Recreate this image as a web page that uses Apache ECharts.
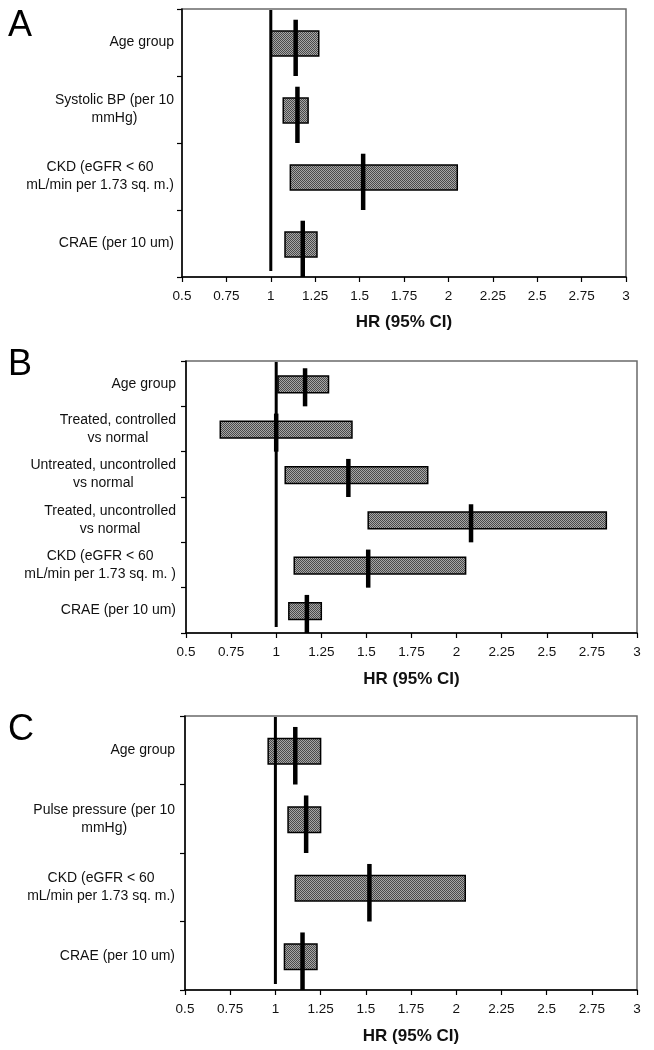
<!DOCTYPE html>
<html>
<head>
<meta charset="utf-8">
<script src="https://cdn.jsdelivr.net/npm/echarts@6/dist/echarts.min.js"></script>
<style>
html,body{margin:0;padding:0;background:#fff;}
#chart{width:654px;height:1050px;}
</style>
</head>
<body>
<div id="chart"></div>
<script>
// ---- Data ----
const xTicks = [0.5, 0.75, 1, 1.25, 1.5, 1.75, 2, 2.25, 2.5, 2.75, 3];
const refX = 1;

const catsA = ['Age group', 'Systolic BP (per 10\nmmHg)', 'CKD (eGFR < 60\nmL/min per 1.73 sq. m.)', 'CRAE (per 10 um)'];
const hrA = [1.14, 1.15, 1.52, 1.18];
const loA = [1.00, 1.07, 1.11, 1.08];
const hiA = [1.27, 1.21, 2.05, 1.26];

const catsB = ['Age group', 'Treated, controlled\nvs normal', 'Untreated, uncontrolled\nvs normal', 'Treated, uncontrolled\nvs normal', 'CKD (eGFR < 60\nmL/min per 1.73 sq. m. )', 'CRAE (per 10 um)'];
const hrB = [1.16, 1.00, 1.40, 2.08, 1.51, 1.17];
const loB = [1.01, 0.69, 1.05, 1.51, 1.10, 1.07];
const hiB = [1.29, 1.42, 1.84, 2.83, 2.05, 1.25];

const catsC = ['Age group', 'Pulse pressure (per 10\nmmHg)', 'CKD (eGFR < 60\nmL/min per 1.73 sq. m.)', 'CRAE (per 10 um)'];
const hrC = [1.11, 1.17, 1.52, 1.15];
const loC = [0.96, 1.07, 1.11, 1.05];
const hiC = [1.25, 1.25, 2.05, 1.23];

const panelLetters = ['A', 'B', 'C'];

// ---- Styling ----
const FONT = "'Liberation Sans', Arial, sans-serif";

const pat = document.createElement('canvas');
pat.width = 2; pat.height = 2;
(function(){
  const c = pat.getContext('2d');
  c.fillStyle = '#a6a6a6'; c.fillRect(0,0,2,2);
  c.fillStyle = '#4a4a4a'; c.fillRect(0,0,1,1); c.fillRect(1,1,1,1);
})();

const panels = [
  {cats: catsA, hr: hrA, lo: loA, hi: hiA, grid: {left: 182, right: 28, top: 9, height: 268}, margin: 8, letterTop: 8, nameGap: 37},
  {cats: catsB, hr: hrB, lo: loB, hi: hiB, grid: {left: 186, right: 17, top: 361, height: 272}, margin: 10, letterTop: 347, nameGap: 38},
  {cats: catsC, hr: hrC, lo: loC, hi: hiC, grid: {left: 185, right: 17, top: 716, height: 274}, margin: 10, letterTop: 712, nameGap: 38}
];

function labelFmt(v){
  return v.split('\n').map(s => '{c|' + s + '}').join('\n');
}

const grids = [], xAxes = [], yAxes = [], series = [], graphics = [];
panels.forEach((p, i) => {
  grids.push(Object.assign({show: true, borderColor: '#6a6a6a', borderWidth: 1.5, backgroundColor: '#fff'}, p.grid));
  xAxes.push({
    type: 'value', gridIndex: i, min: xTicks[0], max: xTicks[xTicks.length-1], interval: 0.25,
    axisLine: {show: true, onZero: false, lineStyle: {color: '#000', width: 1.5}},
    axisTick: {show: true, length: 5, lineStyle: {color: '#000', width: 1.2}},
    splitLine: {show: false},
    axisLabel: {fontFamily: FONT, fontSize: 13.5, color: '#111', margin: 12},
    name: 'HR (95% CI)', nameLocation: 'middle', nameGap: p.nameGap,
    nameTextStyle: {fontFamily: FONT, fontSize: 17, fontWeight: 'bold', color: '#111'}
  });
  yAxes.push({
    type: 'category', gridIndex: i, data: p.cats, inverse: true,
    axisLine: {show: true, lineStyle: {color: '#000', width: 1.5}},
    axisTick: {show: true, length: 5, lineStyle: {color: '#000', width: 1.2}},
    splitLine: {show: false},
    axisLabel: {
      fontFamily: FONT, fontSize: 14, color: '#111', margin: p.margin, lineHeight: 18,
      formatter: labelFmt,
      rich: {c: {fontFamily: FONT, fontSize: 14, color: '#111', align: 'center', lineHeight: 18}}
    }
  });
  // boxes + HR markers
  const data = p.cats.map((c, k) => [p.lo[k], p.hi[k], p.hr[k], k]);
  series.push({
    type: 'custom', xAxisIndex: i, yAxisIndex: i, data: data, z: 3,
    encode: {x: [0, 1, 2], y: 3},
    renderItem: function(params, api){
      const k = api.value(3);
      const a = api.coord([api.value(0), k]);
      const b = api.coord([api.value(1), k]);
      const m = api.coord([api.value(2), k]);
      const h = api.size([0, 1])[1];
      const top = a[1] - h / 2;
      return {
        type: 'group',
        children: [
          {type: 'rect', shape: {x: a[0], y: top + 0.33 * h, width: b[0] - a[0], height: 0.37 * h},
           style: {fill: {image: pat, repeat: 'repeat'}, stroke: '#000', lineWidth: 1.5}},
          {type: 'line', shape: {x1: m[0], y1: top + 0.16 * h, x2: m[0], y2: top + h},
           style: {stroke: '#000', lineWidth: 4.5}}
        ]
      };
    }
  });
  // reference line at HR = 1
  series.push({
    type: 'custom', xAxisIndex: i, yAxisIndex: i, data: [[refX, 0]], z: 4,
    encode: {x: 0, y: 1},
    renderItem: function(params, api){
      const cs = params.coordSys;
      const pt = api.coord([api.value(0), 0]);
      return {type: 'line', shape: {x1: pt[0], y1: cs.y + 1, x2: pt[0], y2: cs.y + cs.height - 6},
              style: {stroke: '#000', lineWidth: 3}};
    }
  });
  graphics.push({type: 'text', left: 8, top: p.letterTop,
    style: {text: panelLetters[i], font: "36px 'Liberation Sans', Arial, sans-serif", fill: '#000'}});
});

const chart = echarts.init(document.getElementById('chart'), null, {renderer: 'canvas'});
chart.setOption({
  animation: false,
  backgroundColor: '#fff',
  grid: grids, xAxis: xAxes, yAxis: yAxes, series: series, graphic: graphics
});
</script>
</body>
</html>
